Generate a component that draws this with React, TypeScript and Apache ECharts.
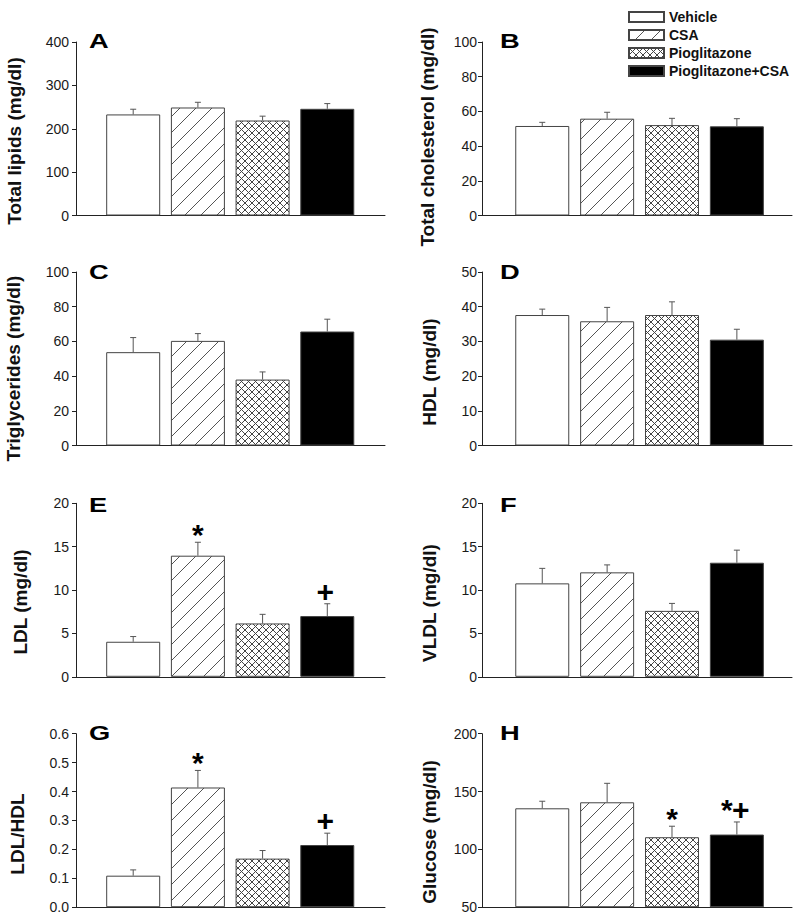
import React, { useEffect, useRef } from 'react';
import * as echarts from 'echarts';

// ---------- data ----------
const groups = ['Vehicle', 'CSA', 'Pioglitazone', 'Pioglitazone+CSA'];

const lipidsMean = [233, 249, 219, 246];
const lipidsSem = [12, 12, 10, 12];
const cholMean = [51.6, 55.8, 52.1, 51.4];
const cholSem = [2.1, 3.7, 3.9, 4.4];
const trigMean = [53.8, 60.3, 38.0, 65.7];
const trigSem = [8.4, 4.2, 4.4, 7.1];
const hdlMean = [37.6, 35.8, 37.6, 30.5];
const hdlSem = [1.7, 4.0, 3.8, 3.0];
const ldlMean = [4.04, 13.96, 6.15, 7.0];
const ldlSem = [0.6, 1.55, 1.05, 1.42];
const vldlMean = [10.77, 12.04, 7.6, 13.15];
const vldlSem = [1.73, 0.86, 0.86, 1.45];
const ratioMean = [0.109, 0.414, 0.168, 0.215];
const ratioSem = [0.02, 0.059, 0.028, 0.041];
const glucoseMean = [135.5, 140.7, 110.5, 112.8];
const glucoseSem = [6.1, 16.4, 9.5, 10.9];

const noMarks = ['', '', '', ''];
const ldlMarks = ['', '*', '', '+'];
const ratioMarks = ['', '*', '', '+'];
const glucoseMarks = ['', '', '*', '*+'];

const panels = [
  { letter: 'A', title: 'Total lipids (mg/dl)', mean: lipidsMean, sem: lipidsSem, marks: noMarks, min: 0, max: 400, interval: 100, decimals: 0 },
  { letter: 'B', title: 'Total cholesterol (mg/dl)', mean: cholMean, sem: cholSem, marks: noMarks, min: 0, max: 100, interval: 20, decimals: 0 },
  { letter: 'C', title: 'Triglycerides (mg/dl)', mean: trigMean, sem: trigSem, marks: noMarks, min: 0, max: 100, interval: 20, decimals: 0 },
  { letter: 'D', title: 'HDL (mg/dl)', mean: hdlMean, sem: hdlSem, marks: noMarks, min: 0, max: 50, interval: 10, decimals: 0 },
  { letter: 'E', title: 'LDL (mg/dl)', mean: ldlMean, sem: ldlSem, marks: ldlMarks, min: 0, max: 20, interval: 5, decimals: 0 },
  { letter: 'F', title: 'VLDL (mg/dl)', mean: vldlMean, sem: vldlSem, marks: noMarks, min: 0, max: 20, interval: 5, decimals: 0 },
  { letter: 'G', title: 'LDL/HDL', mean: ratioMean, sem: ratioSem, marks: ratioMarks, min: 0, max: 0.6, interval: 0.1, decimals: 1 },
  { letter: 'H', title: 'Glucose (mg/dl)', mean: glucoseMean, sem: glucoseSem, marks: glucoseMarks, min: 50, max: 200, interval: 50, decimals: 0 },
];

// ---------- layout ----------
const FONT = '"Liberation Sans", Arial, Helvetica, sans-serif';
const colLeft = [76, 482];
const colWidth = [309, 310];
const colXMin = [-0.884, -0.929];
const colXMax = [3.892, 3.85];
const colLabelMargin = [7, 5];
const rowTop = [42, 272, 503.3, 733.7];
const gridH = 173.5;
const titlePos = [
  [14, 141], [427, 137],
  [13.5, 368.5], [429, 372],
  [20.5, 602], [429, 603],
  [17.5, 834], [429, 832],
];
const letterX = [89, 500];
const letterY = [40.5, 271.5, 505, 732.7];

function makeHatch(): HTMLCanvasElement {
  const p = 16;
  const c = document.createElement('canvas');
  c.width = p; c.height = p;
  const ctx = c.getContext('2d')!;
  ctx.fillStyle = '#ffffff';
  ctx.fillRect(0, 0, p, p);
  ctx.strokeStyle = '#555555';
  ctx.lineWidth = 1;
  ctx.beginPath();
  ctx.moveTo(0, p); ctx.lineTo(p, 0);
  ctx.moveTo(-2, 2); ctx.lineTo(2, -2);
  ctx.moveTo(p - 2, p + 2); ctx.lineTo(p + 2, p - 2);
  ctx.stroke();
  return c;
}

function makeCross(): HTMLCanvasElement {
  const p = 7;
  const c = document.createElement('canvas');
  c.width = p; c.height = p;
  const ctx = c.getContext('2d')!;
  ctx.fillStyle = '#ffffff';
  ctx.fillRect(0, 0, p, p);
  ctx.strokeStyle = '#444444';
  ctx.lineWidth = 1;
  ctx.beginPath();
  ctx.moveTo(0, p); ctx.lineTo(p, 0);
  ctx.moveTo(-2, 2); ctx.lineTo(2, -2);
  ctx.moveTo(p - 2, p + 2); ctx.lineTo(p + 2, p - 2);
  ctx.moveTo(0, 0); ctx.lineTo(p, p);
  ctx.moveTo(-2, p - 2); ctx.lineTo(2, p + 2);
  ctx.moveTo(p - 2, -2); ctx.lineTo(p + 2, 2);
  ctx.stroke();
  return c;
}

export default function App() {
  const ref = useRef<HTMLDivElement>(null);

  useEffect(() => {
    if (!ref.current) return;
    const chart = echarts.init(ref.current, null, { renderer: 'svg' });

    const hatch = makeHatch();
    const cross = makeCross();
    const fills: any[] = [
      '#ffffff',
      { image: hatch, repeat: 'repeat', imageWidth: 16, imageHeight: 16 },
      { image: cross, repeat: 'repeat', imageWidth: 7, imageHeight: 7 },
      '#000000',
    ];

    const grids: any[] = [];
    const xAxes: any[] = [];
    const yAxes: any[] = [];
    const series: any[] = [];
    const graphics: any[] = [];

    panels.forEach((pn, p) => {
      const col = p % 2;
      const row = Math.floor(p / 2);
      grids.push({ left: colLeft[col], top: rowTop[row], width: colWidth[col], height: gridH, containLabel: false });
      xAxes.push({
        type: 'value', gridIndex: p, min: colXMin[col], max: colXMax[col],
        axisLine: { show: true, onZero: false, lineStyle: { color: '#222', width: 1 } },
        axisTick: { show: false }, axisLabel: { show: false }, splitLine: { show: false },
      });
      yAxes.push({
        type: 'value', gridIndex: p, min: pn.min, max: pn.max, interval: pn.interval,
        startValue: pn.min,
        axisLine: { show: true, onZero: false, lineStyle: { color: '#222', width: 1 } },
        axisTick: { show: true, length: 4, lineStyle: { color: '#222' } },
        axisLabel: {
          margin: colLabelMargin[col], fontSize: 14, color: '#1a1a1a', fontFamily: FONT,
          formatter: (v: number) => v.toFixed(pn.decimals),
        },
        splitLine: { show: false },
      });
      groups.forEach((g, i) => {
        series.push({
          type: 'bar', name: g, xAxisIndex: p, yAxisIndex: p,
          barWidth: 54, barGap: '-100%', clip: true,
          data: [[i, pn.mean[i]]],
          itemStyle: { color: fills[i], borderColor: '#444', borderWidth: 1 },
          emphasis: { disabled: true },
        });
      });
      const marks = pn.marks;
      series.push({
        type: 'custom', xAxisIndex: p, yAxisIndex: p, z: 5,
        encode: { x: 0, y: 1 },
        data: pn.mean.map((m, i) => [i, m, pn.sem[i]]),
        renderItem: (params: any, api: any) => {
          const i = api.value(0);
          const m = api.value(1);
          const s = api.value(2);
          const base = api.coord([i, m]);
          const top = api.coord([i, m + s]);
          const x = base[0];
          const children: any[] = [
            { type: 'line', shape: { x1: x, y1: base[1], x2: x, y2: top[1] }, style: { stroke: '#555', lineWidth: 1 } },
            { type: 'line', shape: { x1: x - 3, y1: top[1], x2: x + 3, y2: top[1] }, style: { stroke: '#555', lineWidth: 1 } },
          ];
          const mk = marks[params.dataIndex];
          if (mk) {
            const hasPlus = mk.indexOf('+') >= 0;
            const ty = hasPlus ? top[1] - 12.6 : top[1] - 8;
            const chars = mk.split('');
            const offs = chars.length === 2 ? [-10, 4] : [chars[0] === '+' ? -2 : 0];
            chars.forEach((ch: string, k: number) => {
              children.push({
                type: 'text', x: x + offs[k], y: ty,
                style: {
                  text: ch, font: `bold 30px ${FONT}`, fill: '#000',
                  textAlign: 'center', textVerticalAlign: 'middle', align: 'center', verticalAlign: 'middle',
                },
              });
            });
          }
          return { type: 'group', children };
        },
      });

      graphics.push({
        type: 'text', x: titlePos[p][0], y: titlePos[p][1], rotation: Math.PI / 2,
        style: {
          text: pn.title, font: `bold 19px ${FONT}`, fill: '#111',
          textAlign: 'center', textVerticalAlign: 'middle', align: 'center', verticalAlign: 'middle',
        },
      });
      graphics.push({
        type: 'text', x: letterX[col], y: letterY[row], scaleX: 1.3,
        style: {
          text: pn.letter, font: `bold 21px ${FONT}`, fill: '#000',
          textAlign: 'left', textVerticalAlign: 'middle', align: 'left', verticalAlign: 'middle',
        },
      });
    });

    chart.setOption({
      animation: false,
      backgroundColor: '#ffffff',
      grid: grids,
      xAxis: xAxes,
      yAxis: yAxes,
      series,
      graphic: { elements: graphics },
      legend: {
        data: groups, orient: 'vertical', left: 623, top: 5,
        itemWidth: 35, itemHeight: 10, itemGap: 4, icon: 'rect',
        selectedMode: false,
        textStyle: { fontSize: 14, fontWeight: 'bold', color: '#111', fontFamily: FONT, lineHeight: 14 },
      },
    });

    return () => chart.dispose();
  }, []);

  return <div ref={ref} style={{ position: 'fixed', left: 0, top: 0, width: 800, height: 917, background: '#fff' }} />;
}
